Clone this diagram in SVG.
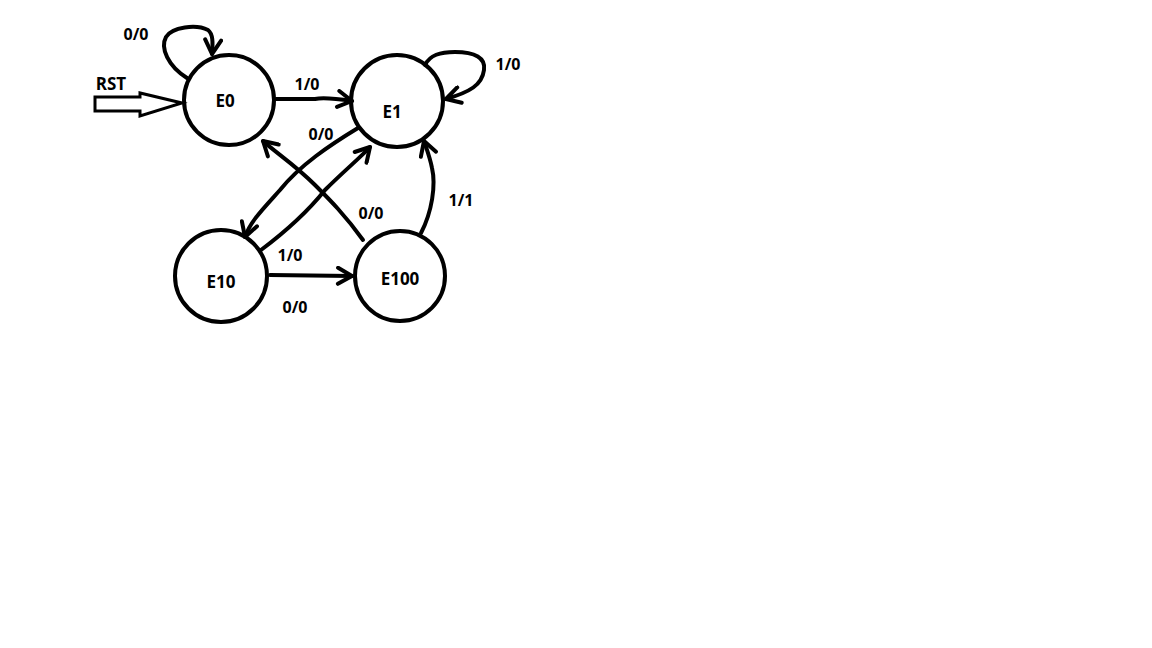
<svg xmlns="http://www.w3.org/2000/svg" width="1152" height="648" viewBox="0 0 1152 648">
<style>
.st{fill:none;stroke:#000;stroke-width:4}
.e{fill:none;stroke:#000;stroke-width:4;stroke-linecap:round;stroke-linejoin:round;marker-end:url(#v)}
.t{font-family:"Open Sans","Liberation Sans",sans-serif;font-weight:700;font-size:17px;fill:#000;text-anchor:middle}
.l{font-family:"Open Sans","Liberation Sans",sans-serif;font-weight:700;font-size:16px;fill:#000;text-anchor:middle}
</style>
<defs>
<marker id="v" viewBox="0 0 20 20" refX="17" refY="10" markerWidth="20" markerHeight="20" markerUnits="userSpaceOnUse" orient="auto">
<path d="M3,2 L17,10 L3,18" fill="none" stroke="#000" stroke-width="4" stroke-linecap="round" stroke-linejoin="round"/>
</marker>
</defs>
<rect width="1152" height="648" fill="#fff"/>
<g id="connectors">
<path class="e" d="M187,78 C168,66 160,48 166,37 C172,27 196,24 208,30 C213,34 213,42 212,54"/>
<path class="e" d="M276,99 L315,99 Q325,97 352,101"/>
<path class="e" d="M425,65 C430,55 440,52 455,52 C475,52 486,58 484,70 C482,85 470,92 446,99"/>
<path class="e" d="M358,128 C330,145 300,165 280,190 C262,210 250,222 245,237"/>
<path class="e" d="M261,250 C285,232 305,215 325,190 C345,170 360,158 370,147"/>
<path class="e" d="M363,240 C345,215 330,200 315,185 C295,165 275,152 263,141"/>
<path class="e" d="M421,233 C432,212 436,185 432,168 C430,158 427,150 424,141"/>
<path class="e" d="M270,275 L352,276"/>
<polygon points="95,97 140,97 140,93 182,103 140,116 140,111 95,111" fill="#fff" stroke="#000" stroke-width="3" stroke-linejoin="miter"/>
<text class="t" x="111" y="90">RST</text>
<text class="l" x="136" y="40">0/0</text>
<text class="l" x="307" y="90">1/0</text>
<text class="l" x="508" y="70">1/0</text>
<text class="l" x="321" y="140">0/0</text>
<text class="l" x="290" y="261">1/0</text>
<text class="l" x="371" y="219">0/0</text>
<text class="l" x="461" y="206">1/1</text>
<text class="l" x="295" y="313">0/0</text>
</g>
<g id="E0"><circle class="st" cx="229" cy="100" r="45"/><text class="t" x="225" y="107">E0</text></g>
<g id="E1"><circle class="st" cx="397" cy="101" r="46"/><text class="t" x="392" y="118">E1</text></g>
<g id="E10"><circle class="st" cx="221" cy="276" r="46"/><text class="t" x="221" y="288">E10</text></g>
<g id="E100"><circle class="st" cx="400" cy="276" r="45"/><text class="t" x="400" y="285">E100</text></g>
</svg>
